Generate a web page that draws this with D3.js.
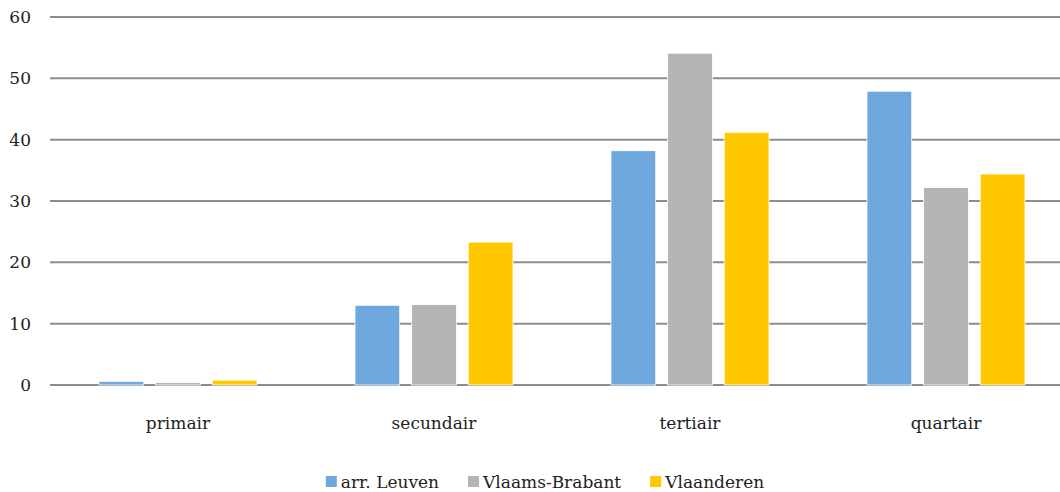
<!DOCTYPE html>
<html>
<head>
<meta charset="utf-8">
<script src="https://cdn.jsdelivr.net/npm/d3@7"></script>
<style>
  body { margin: 0; background: #fff; }
  svg text { fill: #222; }
</style>
</head>
<body>
<div id="chart"></div>
<script>
// Data
const categories = ["primair", "secundair", "tertiair", "quartair"];
const series = ["arr. Leuven", "Vlaams-Brabant", "Vlaanderen"];
const leuven = [0.6, 13.0, 38.2, 47.9];
const brabant = [0.4, 13.1, 54.1, 32.2];
const vlaanderen = [0.8, 23.3, 41.2, 34.4];
const yTicks = [0, 10, 20, 30, 40, 50, 60];
const colors = ["#6FA8DC", "#B4B4B4", "#FFC800"];

const values = [leuven, brabant, vlaanderen];

const width = 1060, height = 492;
const serif = "DejaVu Serif";

const svg = d3.select("#chart").append("svg")
    .attr("width", width)
    .attr("height", height)
    .style("font-family", serif);

// Scales
const x0 = d3.scaleBand()
    .domain(categories)
    .range([50, 1074]);

const x1 = d3.scaleBand()
    .domain(series)
    .range([49, 207])
    .paddingInner(0.21);

const y = d3.scaleLinear()
    .domain([0, 60])
    .range([385, 17]);

// Gridlines
svg.selectAll("line.grid")
    .data(yTicks)
    .enter().append("line")
    .attr("class", "grid")
    .attr("x1", 50)
    .attr("x2", width)
    .attr("y1", d => y(d))
    .attr("y2", d => y(d))
    .style("stroke", "#8c8c8c")
    .style("stroke-width", 2);

// Y tick labels
svg.selectAll("text.ytick")
    .data(yTicks)
    .enter().append("text")
    .attr("class", "ytick")
    .attr("x", 31)
    .attr("y", d => y(d))
    .attr("dy", "0.35em")
    .attr("text-anchor", "end")
    .style("font-size", "17px")
    .text(d => d);

// Bars
const groups = svg.selectAll("g.cat")
    .data(categories)
    .enter().append("g")
    .attr("class", "cat")
    .attr("transform", d => `translate(${x0(d)},0)`);

groups.selectAll("rect")
    .data((c, i) => series.map((s, j) => ({ s: s, v: values[j][i], j: j })))
    .enter().append("rect")
    .attr("x", d => x1(d.s))
    .attr("y", d => y(d.v))
    .attr("width", x1.bandwidth())
    .attr("height", d => y(0) - y(d.v))
    .style("fill", d => colors[d.j])
    .style("stroke", "#fff")
    .style("stroke-width", 0.8);

// Category labels
svg.selectAll("text.xlabel")
    .data(categories)
    .enter().append("text")
    .attr("class", "xlabel")
    .attr("x", d => x0(d) + x0.bandwidth() / 2)
    .attr("y", 429)
    .attr("text-anchor", "middle")
    .style("font-size", "17px")
    .text(d => d);

// Legend
const legend = svg.append("g");
const items = legend.selectAll("g")
    .data(series)
    .enter().append("g");

items.append("rect")
    .attr("width", 11)
    .attr("height", 11)
    .attr("y", 476)
    .style("fill", (d, i) => colors[i]);

items.append("text")
    .attr("x", 15)
    .attr("y", 488)
    .style("font-size", "17px")
    .text(d => d);

let offset = 0;
const positions = [];
items.each(function() {
    const w = d3.select(this).select("text").node().getComputedTextLength();
    positions.push(offset);
    offset += 15 + w + 29;
});
const totalW = offset - 29;
const startX = 545 - totalW / 2;
items.attr("transform", (d, i) => `translate(${startX + positions[i]},0)`);
</script>
</body>
</html>
